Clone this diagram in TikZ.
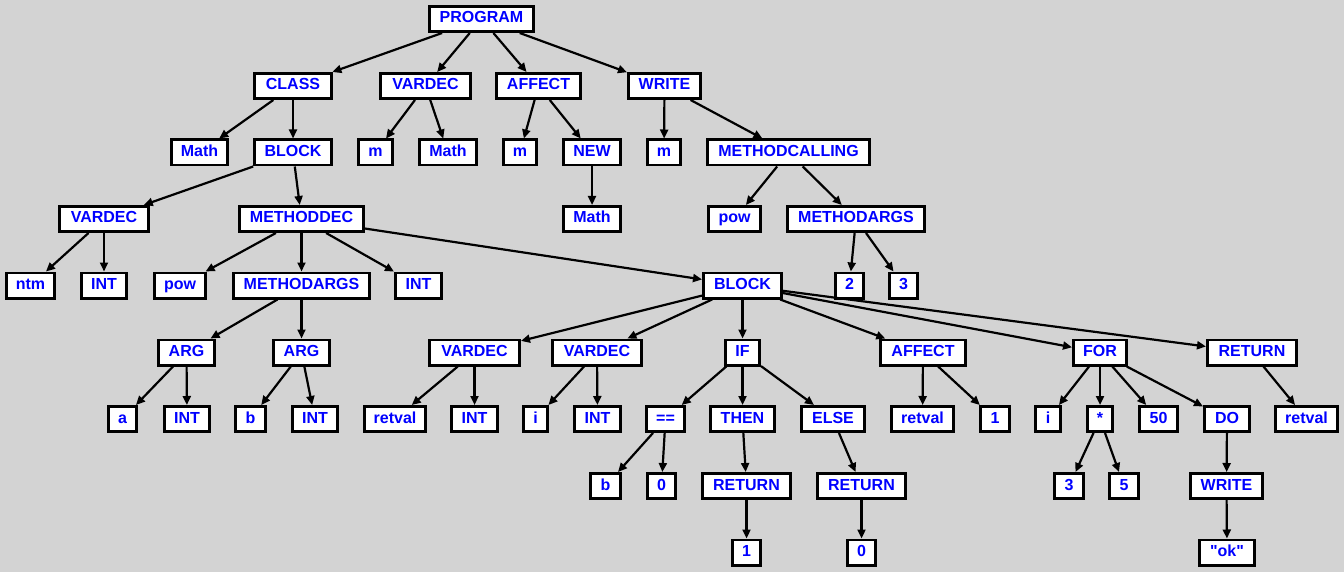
\documentclass[tikz,border=0pt]{standalone}
\usepackage{fontspec}
\newfontfamily\nodefont{Liberation Sans}
\usetikzlibrary{arrows.meta}
\definecolor{bg}{HTML}{D3D3D3}
\tikzset{
  box/.style={draw=black, line width=2.6pt, fill=white, text=blue,
    font=\nodefont\bfseries\fontsize{16}{16}\selectfont, minimum height=25.4pt,
    inner sep=0pt, text height=11pt, text depth=3pt},
  edge/.style={draw=black, line width=2.2pt, -{Triangle[length=9pt,width=8pt]}}
}
\newcommand\bx[5]{\node[box,minimum width={#4pt-2.6pt}] (#1) at (#2,#3) {#5};}
\begin{document}
\begin{tikzpicture}[x=1pt,y=-1pt]
\fill[bg] (0,0) rectangle (1344,572);
\useasboundingbox (0,0) rectangle (1344,572);
\def\ra{19}\def\rb{86}\def\rc{152.5}\def\rd{219}\def\re{285.5}
\def\rf{352.5}\def\rg{419}\def\rh{486}\def\ri{552.5}
% row 0
\bx{prog}{481.5}{\ra}{107}{PROGRAM}
% row 1
\bx{class}{293}{\rb}{80}{CLASS}
\bx{vda}{425.5}{\rb}{93}{VARDEC}
\bx{affa}{538.5}{\rb}{87}{AFFECT}
\bx{wra}{664.5}{\rb}{75}{WRITE}
% row 2
\bx{matha}{199.5}{\rc}{59}{Math}
\bx{blka}{293}{\rc}{80}{BLOCK}
\bx{ma}{375.5}{\rc}{37}{m}
\bx{mathb}{448}{\rc}{60}{Math}
\bx{mb}{520}{\rc}{36}{m}
\bx{new}{592}{\rc}{60}{NEW}
\bx{mc}{664}{\rc}{36}{m}
\bx{mcall}{788.5}{\rc}{165}{METHODCALLING}
% row 3
\bx{vdb}{104}{\rd}{92}{VARDEC}
\bx{mdec}{301.5}{\rd}{127}{METHODDEC}
\bx{mathc}{592}{\rd}{60}{Math}
\bx{powa}{734.5}{\rd}{55}{pow}
\bx{margsa}{856}{\rd}{140}{METHODARGS}
% row 4
\bx{ntm}{30.5}{\re}{51}{ntm}
\bx{inta}{104}{\re}{48}{INT}
\bx{powb}{180}{\re}{54}{pow}
\bx{margsb}{301.5}{\re}{139}{METHODARGS}
\bx{intb}{418.5}{\re}{49}{INT}
\bx{blkb}{742.5}{\re}{81}{BLOCK}
\bx{two}{849.5}{\re}{31}{2}
\bx{three}{903.5}{\re}{31}{3}
% row 5
\bx{arga}{186.5}{\rf}{59}{ARG}
\bx{argb}{301.5}{\rf}{59}{ARG}
\bx{vdc}{474.5}{\rf}{93}{VARDEC}
\bx{vdd}{597}{\rf}{92}{VARDEC}
\bx{if}{742.5}{\rf}{37}{IF}
\bx{affb}{923}{\rf}{88}{AFFECT}
\bx{for}{1100}{\rf}{56}{FOR}
\bx{reta}{1252}{\rf}{92}{RETURN}
% row 6
\bx{a}{122.5}{\rg}{31}{a}
\bx{intc}{187}{\rg}{48}{INT}
\bx{ba}{250.5}{\rg}{33}{b}
\bx{intd}{315}{\rg}{48}{INT}
\bx{rva}{395}{\rg}{64}{retval}
\bx{inte}{474.5}{\rg}{49}{INT}
\bx{ia}{535.5}{\rg}{27}{i}
\bx{intf}{597.5}{\rg}{49}{INT}
\bx{eq}{665.5}{\rg}{41}{==}
\bx{then}{742.5}{\rg}{67}{THEN}
\bx{else}{833}{\rg}{66}{ELSE}
\bx{rvb}{922.5}{\rg}{65}{retval}
\bx{onea}{995}{\rg}{32}{1}
\bx{ib}{1048}{\rg}{28}{i}
\bx{star}{1100}{\rg}{28}{*}
\bx{fifty}{1158.5}{\rg}{41}{50}
\bx{do}{1227}{\rg}{48}{DO}
\bx{rvc}{1306.5}{\rg}{65}{retval}
% row 7
\bx{bb}{605.5}{\rh}{33}{b}
\bx{zeroa}{661.5}{\rh}{31}{0}
\bx{retb}{746.5}{\rh}{91}{RETURN}
\bx{retc}{861.5}{\rh}{91}{RETURN}
\bx{threeb}{1069}{\rh}{32}{3}
\bx{five}{1124}{\rh}{32}{5}
\bx{wrb}{1226.5}{\rh}{75}{WRITE}
% row 8
\bx{oneb}{746.5}{\ri}{31}{1}
\bx{zerob}{861.5}{\ri}{31}{0}
\bx{ok}{1227}{\ri}{58}{"ok"}
% edges
\foreach \p/\c in {prog/class,prog/vda,prog/affa,prog/wra,
  class/matha,class/blka,vda/ma,vda/mathb,affa/mb,affa/new,new/mathc,
  wra/mc,wra/mcall,mcall/powa,mcall/margsa,margsa/two,margsa/three,
  blka/vdb,blka/mdec,vdb/ntm,vdb/inta,
  mdec/powb,mdec/margsb,mdec/intb,mdec/blkb,
  margsb/arga,margsb/argb,arga/a,arga/intc,argb/ba,argb/intd,
  blkb/vdc,blkb/vdd,blkb/if,blkb/affb,blkb/for,blkb/reta,
  vdc/rva,vdc/inte,vdd/ia,vdd/intf,
  if/eq,if/then,if/else,eq/bb,eq/zeroa,then/retb,else/retc,
  retb/oneb,retc/zerob,affb/rvb,affb/onea,
  for/ib,for/star,for/fifty,for/do,star/threeb,star/five,
  do/wrb,wrb/ok,reta/rvc}
  \draw[edge] (\p) -- (\c);
\end{tikzpicture}
\end{document}
